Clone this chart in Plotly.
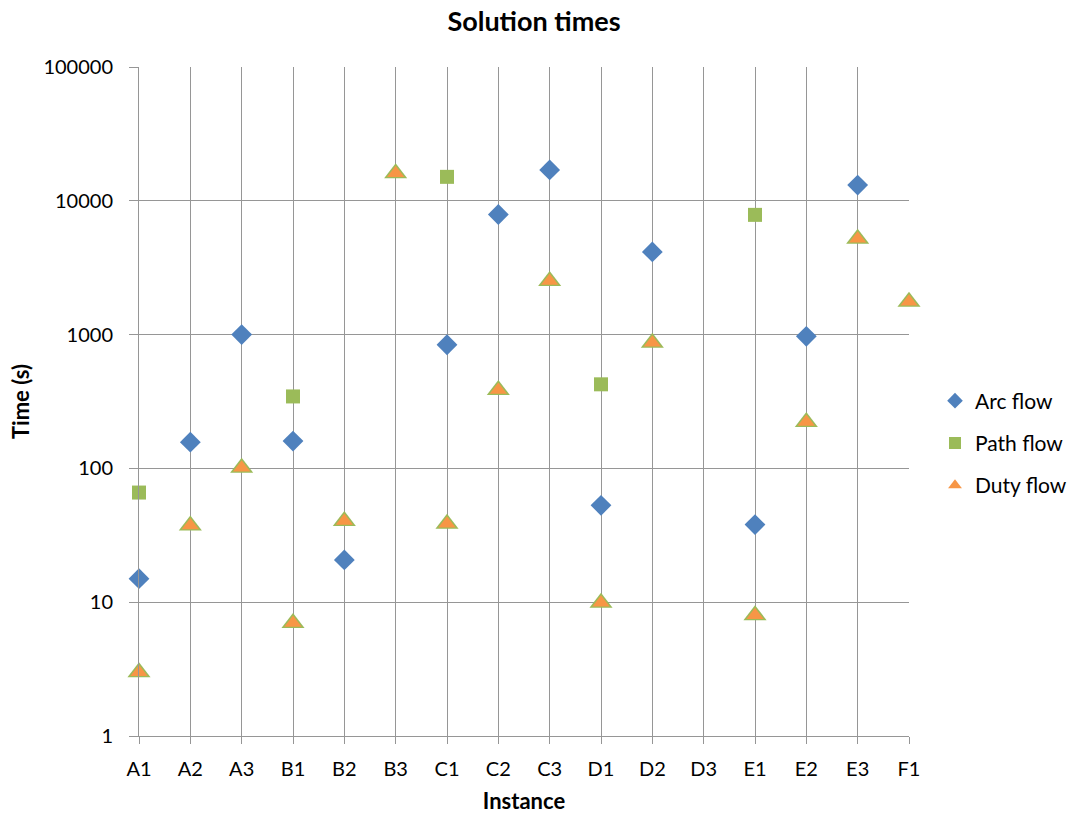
import plotly.graph_objects as go

instances = ["A1", "A2", "A3", "B1", "B2", "B3", "C1", "C2", "C3", "D1", "D2", "D3", "E1", "E2", "E3", "F1"]
arc_flow = [15, 157, 1000, 160, 20.7, None, 840, 7900, 17000, 53, 4150, None, 38, 970, 13100, None]
path_flow = [66, None, None, 345, None, None, 15100, None, None, 425, None, None, 7850, None, None, None]
duty_flow = [3.0, 37.5, 101, 7.0, 40.5, 16100, 38.5, 385, 2520, 9.9, 870, None, 8.0, 222, 5200, 1760]

FONT = "Lato"
ARC_C = "#4F81BD"
PATH_C = "#9BBB59"
DUTY_C = "#F79646"
GRID_C = "#969696"

fig = go.Figure()
fig.add_trace(go.Scatter(
    x=instances, y=arc_flow, mode="markers", name="Arc flow", legendgroup="arc",
    marker=dict(symbol="diamond", size=16, color=ARC_C, line=dict(width=0)),
    cliponaxis=False))
fig.add_trace(go.Scatter(
    x=instances, y=path_flow, mode="markers", name="Path flow", legendgroup="path",
    marker=dict(symbol="square", size=14, color=PATH_C, line=dict(width=0)),
    cliponaxis=False))
fig.add_trace(go.Scatter(
    x=instances, y=duty_flow, mode="markers", name="Duty flow", showlegend=False,
    legendgroup="duty",
    marker=dict(symbol="triangle-up", size=20, color=PATH_C, line=dict(width=0)),
    cliponaxis=False, hoverinfo="skip"))
fig.add_trace(go.Scatter(
    x=instances, y=duty_flow, mode="markers", name="Duty flow", legendgroup="duty",
    marker=dict(symbol="triangle-up", size=15, color=DUTY_C, line=dict(width=0)),
    cliponaxis=False))

fig.update_layout(
    width=1076, height=814,
    paper_bgcolor="white", plot_bgcolor="white",
    margin=dict(l=139, r=167, t=67, b=78, autoexpand=False),
    font=dict(family=FONT, size=20, color="#000000"),
    title=dict(text="<b>Solution times</b>", x=534 / 1076, xanchor="center", xref="container",
               y=1 - 22 / 814, yanchor="middle", font=dict(family=FONT, size=27)),
    legend=dict(x=796 / 770, xanchor="left", y=(736 - 443) / 669, yanchor="middle",
                font=dict(family=FONT, size=21), itemsizing="constant",
                tracegroupgap=12, bgcolor="rgba(0,0,0,0)"),
    showlegend=True,
)
fig.update_xaxes(
    type="category", categoryorder="array", categoryarray=instances,
    range=[0, len(instances) - 1],
    showgrid=True, gridcolor=GRID_C, gridwidth=1,
    showline=True, linecolor=GRID_C, linewidth=1,
    ticks="outside", ticklen=7, tickcolor=GRID_C,
    tickfont=dict(family=FONT, size=20), ticklabelstandoff=8,
    title=dict(text="<b>Instance</b>", font=dict(family=FONT, size=22), standoff=14),
    zeroline=False, automargin=False,
)
fig.update_yaxes(
    type="log", range=[0, 5],
    tickvals=[1, 10, 100, 1000, 10000, 100000],
    ticktext=["1", "10", "100", "1000", "10000", "100000"],
    showgrid=True, gridcolor=GRID_C, gridwidth=1,
    showline=True, linecolor=GRID_C, linewidth=1, mirror=False,
    ticks="outside", ticklen=9, tickcolor=GRID_C,
    tickfont=dict(family=FONT, size=20), ticklabelstandoff=12,
    title=dict(text="<b>Time (s)</b>", font=dict(family=FONT, size=22), standoff=7),
    zeroline=False, automargin=False,
)

fig.write_html("out.html")
